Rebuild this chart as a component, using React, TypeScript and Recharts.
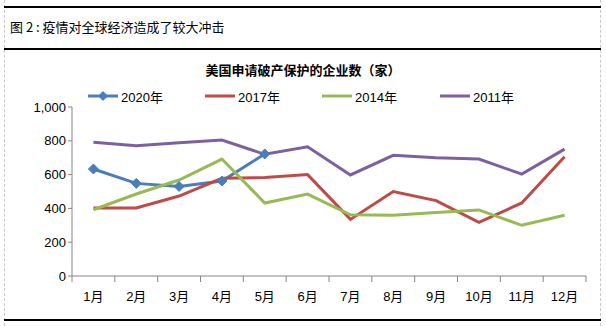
import { LineChart, Line, XAxis, YAxis } from "recharts";

const months = ["1月", "2月", "3月", "4月", "5月", "6月", "7月", "8月", "9月", "10月", "11月", "12月"];
const y2020 = [633, 548, 530, 562, 722];
const y2017 = [403, 403, 473, 578, 583, 600, 335, 500, 446, 318, 432, 706];
const y2014 = [392, 485, 568, 692, 432, 485, 362, 360, 376, 391, 300, 359];
const y2011 = [791, 771, 789, 805, 720, 765, 598, 714, 700, 692, 603, 751];
const yTicks = [0, 200, 400, 600, 800, 1000];

const series = [
  { key: "2020年", color: "#4a7ebb", diamond: true },
  { key: "2017年", color: "#be4b48", diamond: false },
  { key: "2014年", color: "#98b954", diamond: false },
  { key: "2011年", color: "#7d60a0", diamond: false },
];

const data = months.map((m, i) => ({
  month: m,
  "2020年": y2020[i],
  "2017年": y2017[i],
  "2014年": y2014[i],
  "2011年": y2011[i],
}));

const FONT = '"Liberation Sans", "Noto Sans CJK SC", sans-serif';
const HALF = 514 / 24;

function Diamond({ cx, cy }: { cx?: number; cy?: number }) {
  if (cx == null || cy == null) return null;
  const r = 5;
  return <path d={`M${cx},${cy - r}L${cx + r},${cy}L${cx},${cy + r}L${cx - r},${cy}Z`} fill="#4a7ebb" stroke="#4a7ebb" strokeWidth={1} />;
}

function MonthTick(props: any) {
  const { x, y, payload, index } = props;
  return (
    <g>
      <line x1={x - HALF} y1={y - 8} x2={x - HALF} y2={y - 2} stroke="#868686" />
      {index === months.length - 1 && <line x1={x + HALF} y1={y - 8} x2={x + HALF} y2={y - 2} stroke="#868686" />}
      <text x={x} y={y + 17} textAnchor="middle" fontSize={13} fill="#000" fontFamily={FONT}>
        {payload.value}
      </text>
    </g>
  );
}

function LegendBox() {
  const pos = [88, 205, 322, 440];
  return (
    <div style={{ position: "absolute", left: 0, top: 86, width: 606, height: 20 }}>
      {series.map((s, i) => (
        <div key={s.key} style={{ position: "absolute", left: pos[i], top: 0, display: "flex", alignItems: "center", height: 20 }}>
          <svg width={30} height={12}>
            <line x1={0} y1={6} x2={30} y2={6} stroke={s.color} strokeWidth={3} />
            {s.diamond && <path d="M15,1L20,6L15,11L10,6Z" fill={s.color} />}
          </svg>
          <span style={{ marginLeft: 3, fontSize: 13, fontFamily: FONT, color: "#000" }}>{s.key}</span>
        </div>
      ))}
    </div>
  );
}

export default function App() {
  return (
    <div style={{ position: "absolute", left: 0, top: 0, width: 606, height: 326, background: "#fff", overflow: "hidden" }}>
      <div style={{ position: "absolute", left: 4, top: 0, bottom: 0, borderLeft: "1px dashed #c8c8c8" }} />
      <div style={{ position: "absolute", left: 600, top: 0, bottom: 0, borderLeft: "1px dashed #c8c8c8" }} />
      <div style={{ position: "absolute", left: 4, width: 597, top: 6, borderTop: "2px solid #000" }} />
      <div style={{ position: "absolute", left: 4, width: 597, top: 48, borderTop: "2px solid #000" }} />
      <div style={{ position: "absolute", left: 4, width: 597, top: 319, borderTop: "2px solid #000" }} />
      <div style={{ position: "absolute", left: 10, top: 18, fontSize: 13, fontFamily: '"Noto Sans CJK SC", sans-serif', color: "#000", lineHeight: "18px" }}>
        图 2 : 疫情对全球经济造成了较大冲击
      </div>
      <div style={{ position: "absolute", left: 0, width: 606, top: 61, textAlign: "center", fontSize: 13, fontWeight: "bold", fontFamily: '"Noto Sans CJK SC", sans-serif', color: "#000", lineHeight: "18px" }}>
        美国申请破产保护的企业数（家）
      </div>
      <LegendBox />
      <div style={{ position: "absolute", left: 0, top: 0 }}>
        <LineChart width={606} height={326} data={data} margin={{ top: 107, right: 20, left: 12, bottom: 20 }}>
          <XAxis
            dataKey="month"
            padding={{ left: HALF, right: HALF }}
            stroke="#868686"
            tickLine={false}
            tick={<MonthTick />}
            height={30}
            interval={0}
          />
          <YAxis
            domain={[0, 1000]}
            ticks={yTicks}
            width={60}
            stroke="#868686"
            tickSize={4}
            tickFormatter={(v: number) => v.toLocaleString("en-US")}
            tick={{ fontSize: 13, fill: "#000", fontFamily: FONT }}
          />
          {series.map((s) => (
            <Line
              key={s.key}
              dataKey={s.key}
              stroke={s.color}
              strokeWidth={3}
              dot={s.diamond ? <Diamond /> : false}
              activeDot={false}
              isAnimationActive={false}
            />
          ))}
        </LineChart>
      </div>
    </div>
  );
}
